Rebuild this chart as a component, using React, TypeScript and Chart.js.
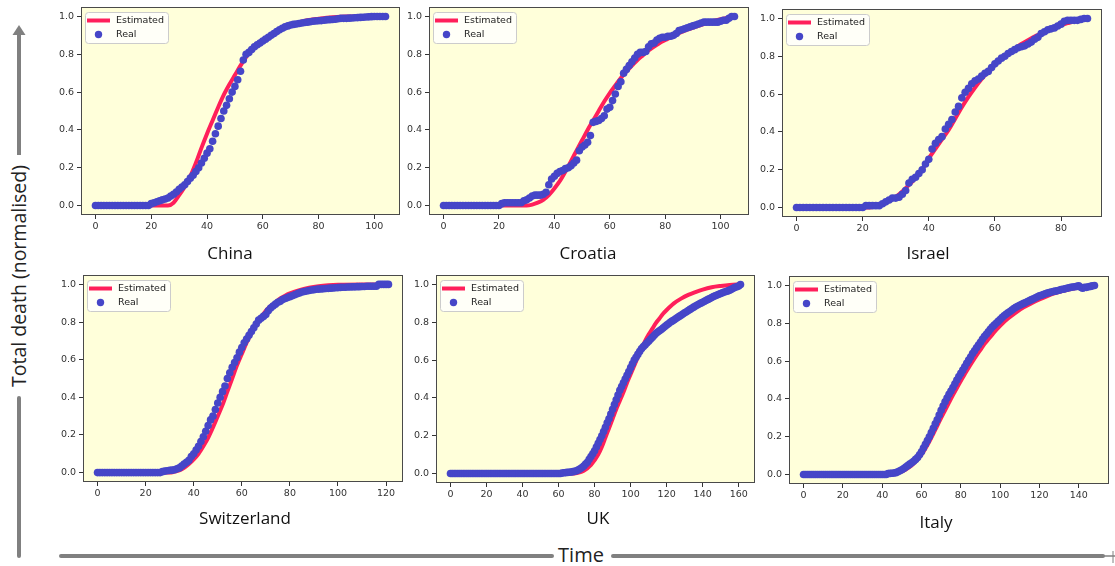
import React, { useEffect, useRef } from "react";
import { Chart, registerables } from "chart.js";

Chart.register(...registerables);

// ---------------- DATA (day index = position in the "Real" arrays) ----------------
const yTicks = [0, 0.2, 0.4, 0.6, 0.8, 1.0];

const chinaXTicks = [0, 20, 40, 60, 80, 100];
const chinaReal = [
  0, 0, 0, 0, 0, 0, 0, 0, 0, 0,
  0, 0, 0, 0, 0, 0, 0, 0, 0, 0,
  0.01, 0.015, 0.02, 0.025, 0.03, 0.035, 0.04, 0.05, 0.06, 0.072,
  0.086, 0.098, 0.11, 0.127, 0.145, 0.16, 0.18, 0.2, 0.225, 0.25,
  0.277, 0.3, 0.34, 0.38, 0.42, 0.46, 0.5, 0.53, 0.565, 0.6,
  0.63, 0.665, 0.71, 0.77, 0.8, 0.81, 0.825, 0.84, 0.85, 0.86,
  0.87, 0.88, 0.89, 0.9, 0.91, 0.92, 0.93, 0.938, 0.945, 0.95,
  0.955, 0.958, 0.96, 0.963, 0.965, 0.968, 0.97, 0.972, 0.975, 0.976,
  0.977, 0.978, 0.98, 0.982, 0.983, 0.984, 0.985, 0.988, 0.99, 0.99,
  0.99, 0.991, 0.992, 0.993, 0.994, 0.995, 0.996, 0.997, 0.998, 0.999,
  1, 1, 1, 1, 1,
];
const chinaEstDays = [0, 26, 28, 30, 32, 34, 36, 38, 40, 42, 44, 46, 48, 50, 52, 54, 56, 58, 60, 64, 68, 72, 76, 80, 85, 90, 104];
const chinaEstVals = [0, 0, 0.015, 0.055, 0.1, 0.155, 0.225, 0.305, 0.38, 0.45, 0.52, 0.585, 0.64, 0.69, 0.74, 0.785, 0.825, 0.855, 0.877, 0.912, 0.944, 0.965, 0.98, 0.988, 0.996, 1, 1];

const croatiaXTicks = [0, 20, 40, 60, 80, 100];
const croatiaReal = [
  0, 0, 0, 0, 0, 0, 0, 0, 0, 0,
  0, 0, 0, 0, 0, 0, 0, 0, 0, 0,
  0, 0.01, 0.015, 0.015, 0.015, 0.015, 0.015, 0.015, 0.015, 0.025,
  0.03, 0.04, 0.05, 0.055, 0.055, 0.055, 0.06, 0.07, 0.11, 0.14,
  0.155, 0.17, 0.18, 0.185, 0.195, 0.2, 0.21, 0.225, 0.24, 0.29,
  0.31, 0.32, 0.335, 0.37, 0.44, 0.445, 0.45, 0.46, 0.475, 0.51,
  0.52, 0.555, 0.59, 0.63, 0.655, 0.7, 0.72, 0.74, 0.76, 0.78,
  0.8, 0.81, 0.81, 0.815, 0.84, 0.855, 0.86, 0.875, 0.885, 0.89,
  0.89, 0.895, 0.895, 0.9, 0.91, 0.925, 0.93, 0.935, 0.94, 0.945,
  0.95, 0.955, 0.96, 0.965, 0.97, 0.97, 0.97, 0.97, 0.97, 0.97,
  0.975, 0.98, 0.98, 0.99, 1, 1,
];
const croatiaEstDays = [0, 30, 32, 34, 36, 38, 40, 42, 44, 46, 48, 50, 52, 54, 56, 58, 60, 62, 64, 66, 68, 70, 72, 74, 76, 78, 80, 84, 88, 92, 96, 100, 105];
const croatiaEstVals = [0, 0, 0.005, 0.015, 0.03, 0.055, 0.09, 0.13, 0.18, 0.235, 0.29, 0.345, 0.4, 0.45, 0.5, 0.55, 0.595, 0.635, 0.675, 0.71, 0.74, 0.77, 0.795, 0.82, 0.84, 0.86, 0.875, 0.905, 0.93, 0.95, 0.97, 0.985, 1];

const israelXTicks = [0, 20, 40, 60, 80];
const israelReal = [
  0, 0, 0, 0, 0, 0, 0, 0, 0, 0,
  0, 0, 0, 0, 0, 0, 0, 0, 0, 0,
  0, 0.01, 0.01, 0.01, 0.01, 0.01, 0.02, 0.03, 0.04, 0.05,
  0.05, 0.055, 0.07, 0.09, 0.13, 0.15, 0.16, 0.18, 0.2, 0.23,
  0.255, 0.31, 0.34, 0.36, 0.375, 0.415, 0.44, 0.465, 0.505, 0.535,
  0.58, 0.61, 0.63, 0.655, 0.67, 0.68, 0.695, 0.71, 0.72, 0.74,
  0.76, 0.775, 0.79, 0.8, 0.815, 0.825, 0.835, 0.845, 0.85, 0.855,
  0.865, 0.875, 0.89, 0.9, 0.92, 0.93, 0.94, 0.945, 0.95, 0.96,
  0.97, 0.985, 0.99, 0.99, 0.99, 0.99, 0.995, 1, 1,
];
const israelEstDays = [0, 22, 24, 26, 28, 30, 32, 34, 36, 38, 40, 42, 44, 46, 48, 50, 52, 54, 56, 58, 60, 62, 64, 66, 68, 70, 72, 74, 76, 78, 80, 82, 84, 86, 88];
const israelEstVals = [0, 0, 0.008, 0.02, 0.035, 0.056, 0.085, 0.12, 0.155, 0.2, 0.26, 0.31, 0.36, 0.41, 0.47, 0.53, 0.585, 0.635, 0.68, 0.72, 0.755, 0.79, 0.815, 0.84, 0.865, 0.885, 0.905, 0.92, 0.935, 0.95, 0.965, 0.975, 0.985, 0.993, 1];

const switzerlandXTicks = [0, 20, 40, 60, 80, 100, 120];
const switzerlandReal = [
  0, 0, 0, 0, 0, 0, 0, 0, 0, 0,
  0, 0, 0, 0, 0, 0, 0, 0, 0, 0,
  0, 0, 0, 0, 0, 0, 0, 0.005, 0.008, 0.01,
  0.012, 0.013, 0.015, 0.02, 0.025, 0.035, 0.045, 0.055, 0.065, 0.085,
  0.1, 0.12, 0.14, 0.165, 0.19, 0.22, 0.25, 0.28, 0.3, 0.335,
  0.37, 0.4, 0.43, 0.46, 0.5, 0.53, 0.56, 0.585, 0.61, 0.64,
  0.665, 0.69, 0.71, 0.73, 0.75, 0.77, 0.79, 0.81, 0.82, 0.83,
  0.84, 0.86, 0.875, 0.885, 0.895, 0.905, 0.91, 0.92, 0.925, 0.93,
  0.935, 0.94, 0.945, 0.95, 0.955, 0.96, 0.962, 0.965, 0.968, 0.97,
  0.972, 0.974, 0.975, 0.976, 0.977, 0.978, 0.979, 0.98, 0.981, 0.982,
  0.983, 0.984, 0.985, 0.985, 0.986, 0.986, 0.987, 0.987, 0.988, 0.988,
  0.989, 0.989, 0.99, 0.99, 0.99, 0.99, 0.99, 1, 1, 1,
  1, 1,
];
const switzerlandEstDays = [0, 30, 32, 34, 36, 38, 40, 42, 44, 46, 48, 50, 52, 54, 56, 58, 60, 62, 64, 66, 68, 70, 72, 74, 76, 78, 80, 84, 88, 92, 96, 100, 110, 121];
const switzerlandEstVals = [0, 0, 0.005, 0.012, 0.025, 0.045, 0.07, 0.1, 0.14, 0.185, 0.24, 0.3, 0.36, 0.43, 0.5, 0.57, 0.63, 0.69, 0.74, 0.785, 0.825, 0.86, 0.885, 0.905, 0.925, 0.94, 0.952, 0.97, 0.982, 0.99, 0.995, 0.998, 1, 1];

const ukXTicks = [0, 20, 40, 60, 80, 100, 120, 140, 160];
const ukReal = [
  0, 0, 0, 0, 0, 0, 0, 0, 0, 0,
  0, 0, 0, 0, 0, 0, 0, 0, 0, 0,
  0, 0, 0, 0, 0, 0, 0, 0, 0, 0,
  0, 0, 0, 0, 0, 0, 0, 0, 0, 0,
  0, 0, 0, 0, 0, 0, 0, 0, 0, 0,
  0, 0, 0, 0, 0, 0, 0, 0, 0, 0,
  0, 0, 0.003, 0.004, 0.005, 0.006, 0.007, 0.008, 0.01, 0.012,
  0.015, 0.02, 0.025, 0.032, 0.04, 0.05, 0.06, 0.075, 0.09, 0.105,
  0.12, 0.14, 0.16, 0.18, 0.2, 0.222, 0.245, 0.268, 0.29, 0.315,
  0.34, 0.365, 0.39, 0.415, 0.44, 0.46, 0.48, 0.5, 0.52, 0.54,
  0.56, 0.58, 0.6, 0.615, 0.63, 0.645, 0.66, 0.67, 0.68, 0.69,
  0.7, 0.71, 0.72, 0.73, 0.74, 0.748, 0.755, 0.762, 0.77, 0.778,
  0.785, 0.792, 0.8, 0.806, 0.812, 0.818, 0.825, 0.831, 0.837, 0.844,
  0.85, 0.856, 0.862, 0.868, 0.874, 0.88, 0.886, 0.891, 0.896, 0.901,
  0.906, 0.911, 0.916, 0.921, 0.926, 0.931, 0.936, 0.94, 0.944, 0.948,
  0.952, 0.956, 0.96, 0.963, 0.966, 0.97, 0.975, 0.98, 0.985, 0.988,
  0.992, 1,
];
const ukEstDays = [0, 68, 70, 74, 78, 82, 84, 86, 88, 90, 92, 94, 96, 98, 100, 102, 104, 106, 108, 110, 112, 114, 116, 118, 120, 124, 128, 132, 136, 140, 145, 150, 155, 161];
const ukEstVals = [0, 0, 0.003, 0.015, 0.045, 0.1, 0.14, 0.19, 0.24, 0.29, 0.34, 0.385, 0.43, 0.48, 0.525, 0.57, 0.615, 0.66, 0.7, 0.735, 0.765, 0.795, 0.82, 0.845, 0.865, 0.9, 0.925, 0.945, 0.96, 0.973, 0.985, 0.992, 0.997, 1];

const italyXTicks = [0, 20, 40, 60, 80, 100, 120, 140];
const italyReal = [
  0, 0, 0, 0, 0, 0, 0, 0, 0, 0,
  0, 0, 0, 0, 0, 0, 0, 0, 0, 0,
  0, 0, 0, 0, 0, 0, 0, 0, 0, 0,
  0, 0, 0, 0, 0, 0, 0, 0, 0, 0,
  0, 0, 0, 0.005, 0.006, 0.007, 0.008, 0.01, 0.015, 0.02,
  0.025, 0.032, 0.04, 0.047, 0.055, 0.062, 0.07, 0.08, 0.09, 0.105,
  0.12, 0.14, 0.16, 0.18, 0.2, 0.222, 0.245, 0.268, 0.29, 0.315,
  0.34, 0.362, 0.385, 0.405, 0.425, 0.442, 0.46, 0.48, 0.5, 0.518,
  0.535, 0.552, 0.57, 0.588, 0.605, 0.622, 0.64, 0.655, 0.67, 0.685,
  0.7, 0.715, 0.73, 0.742, 0.755, 0.768, 0.78, 0.79, 0.8, 0.81,
  0.82, 0.83, 0.84, 0.848, 0.855, 0.862, 0.87, 0.878, 0.885, 0.89,
  0.895, 0.9, 0.905, 0.91, 0.915, 0.92, 0.925, 0.93, 0.935, 0.94,
  0.945, 0.948, 0.952, 0.956, 0.96, 0.962, 0.965, 0.968, 0.97, 0.972,
  0.975, 0.978, 0.98, 0.982, 0.985, 0.988, 0.99, 0.992, 0.993, 0.995,
  0.998, 0.99, 0.985, 0.99, 0.99, 0.993, 0.995, 0.998, 1,
];
const italyEstDays = [0, 45, 48, 50, 52, 54, 56, 58, 60, 62, 64, 66, 68, 70, 72, 74, 76, 78, 80, 82, 84, 86, 88, 90, 92, 94, 96, 98, 100, 104, 108, 112, 116, 120, 124, 128, 132, 136, 140, 144, 148];
const italyEstVals = [0, 0, 0.008, 0.016, 0.027, 0.04, 0.058, 0.08, 0.105, 0.138, 0.175, 0.215, 0.258, 0.3, 0.34, 0.38, 0.42, 0.458, 0.495, 0.53, 0.565, 0.598, 0.63, 0.66, 0.69, 0.715, 0.74, 0.765, 0.787, 0.825, 0.857, 0.884, 0.906, 0.926, 0.944, 0.959, 0.971, 0.981, 0.989, 0.995, 1];

const seriesLabels = ["Estimated", "Real"];
const yAxisTitle = "Total death (normalised)";
const xAxisTitle = "Time";

// ---------------- STYLE / LAYOUT ----------------
const RED = "#ff1f5a";
const BLUE = "#4646c8";
const PLOT_BG = "#ffffda";
const FRAME = "#4a4a4a";
const ARROW = "#808080";

const YW = 34; // y-axis box width
const XH = 26; // x-axis box height
const PAD_T = 12;
const PAD_R = 12;

type PanelDef = {
  name: string;
  real: number[];
  estDays: number[];
  estVals: number[];
  xTicks: number[];
  box: { l: number; t: number; r: number; b: number };
  title: { x: number; y: number };
};

const panels: PanelDef[] = [
  { name: "China", real: chinaReal, estDays: chinaEstDays, estVals: chinaEstVals, xTicks: chinaXTicks, box: { l: 81, t: 7, r: 400, b: 215 }, title: { x: 230, y: 252 } },
  { name: "Croatia", real: croatiaReal, estDays: croatiaEstDays, estVals: croatiaEstVals, xTicks: croatiaXTicks, box: { l: 429, t: 7, r: 749, b: 215 }, title: { x: 588, y: 252 } },
  { name: "Israel", real: israelReal, estDays: israelEstDays, estVals: israelEstVals, xTicks: israelXTicks, box: { l: 782, t: 9, r: 1102, b: 217 }, title: { x: 928, y: 252 } },
  { name: "Switzerland", real: switzerlandReal, estDays: switzerlandEstDays, estVals: switzerlandEstVals, xTicks: switzerlandXTicks, box: { l: 83, t: 275, r: 403, b: 482 }, title: { x: 245, y: 517 } },
  { name: "UK", real: ukReal, estDays: ukEstDays, estVals: ukEstVals, xTicks: ukXTicks, box: { l: 436, t: 275, r: 755, b: 483 }, title: { x: 598, y: 517 } },
  { name: "Italy", real: italyReal, estDays: italyEstDays, estVals: italyEstVals, xTicks: italyXTicks, box: { l: 789, t: 276, r: 1109, b: 484 }, title: { x: 936, y: 521 } },
];

const panelDecor = {
  id: "panelDecor",
  beforeDraw(chart: any) {
    const { ctx, chartArea: a } = chart;
    ctx.save();
    ctx.fillStyle = PLOT_BG;
    ctx.fillRect(a.left, a.top, a.right - a.left, a.bottom - a.top);
    ctx.restore();
  },
  afterDatasetsDraw(chart: any) {
    const { ctx, chartArea: a } = chart;
    const L = Math.round(a.left);
    const T = Math.round(a.top);
    ctx.save();
    ctx.beginPath();
    ctx.roundRect(L + 4.5, T + 5.5, 83, 31, 3);
    ctx.fillStyle = "rgba(255,255,255,0.8)";
    ctx.fill();
    ctx.strokeStyle = "#cccccc";
    ctx.lineWidth = 1;
    ctx.stroke();
    ctx.beginPath();
    ctx.strokeStyle = RED;
    ctx.lineWidth = 4;
    ctx.moveTo(L + 6, T + 13.5);
    ctx.lineTo(L + 29, T + 13.5);
    ctx.stroke();
    ctx.beginPath();
    ctx.fillStyle = BLUE;
    ctx.arc(L + 17.5, T + 27.5, 3.7, 0, Math.PI * 2);
    ctx.fill();
    ctx.fillStyle = "#222";
    ctx.font = '9.5px "DejaVu Sans"';
    ctx.textBaseline = "middle";
    ctx.textAlign = "left";
    ctx.fillText(seriesLabels[0], L + 35, T + 14);
    ctx.fillText(seriesLabels[1], L + 35, T + 28);
    ctx.restore();
  },
  afterDraw(chart: any) {
    const { ctx, chartArea: a } = chart;
    ctx.save();
    ctx.strokeStyle = FRAME;
    ctx.lineWidth = 1;
    const l = Math.round(a.left) + 0.5;
    const t = Math.round(a.top) + 0.5;
    const r = Math.round(a.right) - 0.5;
    const b = Math.round(a.bottom) - 0.5;
    ctx.strokeRect(l, t, r - l, b - t);
    ctx.restore();
  },
};

function PanelChart({ p }: { p: PanelDef }) {
  const ref = useRef<HTMLCanvasElement>(null);
  const w = YW + (p.box.r - p.box.l) + PAD_R;
  const h = PAD_T + (p.box.b - p.box.t) + XH;
  useEffect(() => {
    const D = p.real.length - 1;
    const realPts = p.real.map((y, i) => ({ x: i, y }));
    const estPts = p.estDays.map((x, i) => ({ x, y: p.estVals[i] }));
    const tickFont = { family: "DejaVu Sans", size: 9.5 };
    const chart = new Chart(ref.current as HTMLCanvasElement, {
      type: "scatter",
      data: {
        datasets: [
          {
            label: seriesLabels[1],
            data: realPts,
            order: 0,
            showLine: false,
            pointRadius: 3.8,
            pointBorderWidth: 0,
            pointBackgroundColor: BLUE,
            backgroundColor: BLUE,
            borderColor: BLUE,
          },
          {
            label: seriesLabels[0],
            data: estPts,
            order: 1,
            showLine: true,
            pointRadius: 0,
            borderColor: RED,
            backgroundColor: RED,
            borderWidth: 4,
            cubicInterpolationMode: "monotone",
          },
        ],
      } as any,
      options: {
        responsive: false,
        animation: false,
        events: [],
        layout: { padding: { top: PAD_T, right: PAD_R, left: 0, bottom: 0 } },
        plugins: { legend: { display: false }, tooltip: { enabled: false } },
        scales: {
          x: {
            type: "linear",
            min: -0.05 * D,
            max: 1.05 * D,
            afterBuildTicks: (s: any) => {
              s.ticks = p.xTicks.map((v) => ({ value: v }));
            },
            afterFit: (s: any) => {
              s.height = XH;
            },
            grid: { drawOnChartArea: false, drawTicks: true, tickLength: 4, color: "#333" },
            border: { display: false },
            ticks: {
              autoSkip: false,
              maxRotation: 0,
              padding: 2,
              color: "#333",
              font: tickFont,
              callback: (v: any) => String(v),
            },
          },
          y: {
            type: "linear",
            min: -0.05,
            max: 1.05,
            afterBuildTicks: (s: any) => {
              s.ticks = yTicks.map((v) => ({ value: v }));
            },
            afterFit: (s: any) => {
              s.width = YW;
            },
            grid: { drawOnChartArea: false, drawTicks: true, tickLength: 4, color: "#333" },
            border: { display: false },
            ticks: {
              autoSkip: false,
              padding: 3,
              color: "#333",
              font: tickFont,
              callback: (v: any) => Number(v).toFixed(1),
            },
          },
        },
      } as any,
      plugins: [panelDecor],
    });
    return () => chart.destroy();
  }, [p]);
  return (
    <>
      <canvas
        ref={ref}
        width={w}
        height={h}
        style={{ position: "absolute", left: p.box.l - YW, top: p.box.t - PAD_T, width: w, height: h }}
      />
      <div
        style={{
          position: "absolute",
          left: p.title.x,
          top: p.title.y,
          transform: "translate(-50%, -50%)",
          fontFamily: '"Open Sans", sans-serif',
          fontSize: 17,
          lineHeight: 1,
          color: "#111",
          whiteSpace: "nowrap",
        }}
      >
        {p.name}
      </div>
    </>
  );
}

export default function App() {
  return (
    <div
      style={{
        position: "absolute",
        left: 0,
        top: 0,
        width: 1115,
        height: 566,
        overflow: "hidden",
        background: "#ffffff",
      }}
    >
      <svg width={1115} height={566} style={{ position: "absolute", left: 0, top: 0 }}>
        <line x1={19} y1={34} x2={19} y2={155} stroke={ARROW} strokeWidth={4} />
        <polygon points="19,25 12.5,35 25.5,35" fill={ARROW} />
        <line x1={19} y1={398} x2={19} y2={556} stroke={ARROW} strokeWidth={4} strokeLinecap="round" />
        <line x1={61} y1={556} x2={552} y2={556} stroke={ARROW} strokeWidth={4} strokeLinecap="round" />
        <line x1={613} y1={556} x2={1103} y2={556} stroke={ARROW} strokeWidth={4} strokeLinecap="round" />
        <line x1={1103} y1={556} x2={1115} y2={556} stroke={ARROW} strokeWidth={1.5} />
        <line x1={1113} y1={551} x2={1113} y2={563} stroke={ARROW} strokeWidth={1} />
      </svg>
      <div
        style={{
          position: "absolute",
          left: 19,
          top: 276,
          transform: "translate(-50%, -50%) rotate(-90deg)",
          fontFamily: '"Open Sans", sans-serif',
          fontSize: 19.5,
          lineHeight: 1,
          color: "#222",
          whiteSpace: "nowrap",
        }}
      >
        {yAxisTitle}
      </div>
      <div
        style={{
          position: "absolute",
          left: 581,
          top: 555,
          transform: "translate(-50%, -50%)",
          fontFamily: '"Open Sans", sans-serif',
          fontSize: 20,
          lineHeight: 1,
          color: "#222",
          whiteSpace: "nowrap",
        }}
      >
        {xAxisTitle}
      </div>
      {panels.map((p) => (
        <PanelChart key={p.name} p={p} />
      ))}
    </div>
  );
}
